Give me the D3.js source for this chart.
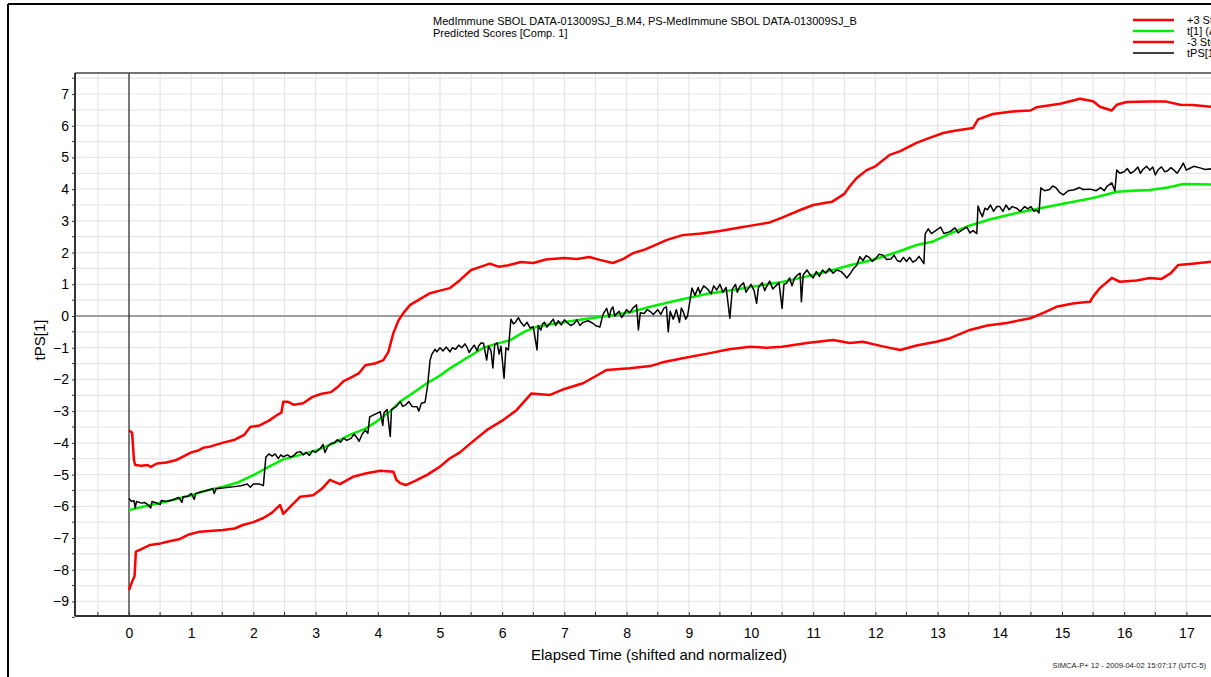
<!DOCTYPE html>
<html>
<head>
<meta charset="utf-8">
<script src="https://cdn.jsdelivr.net/npm/d3@7"></script>
<style>
  body { margin: 0; background: #fff; }
  svg { display: block; font-family: Arial, "Liberation Sans", Helvetica, sans-serif; }
</style>
</head>
<body>
<div class="scoreChart"></div>
<script>
// Values (x = elapsed time, y = tPS[1])
const upperLimit = [[0,-3.6],[0.05,-3.68],[0.08,-4.55],[0.1,-4.7],[0.2,-4.72],[0.3,-4.7],[0.35,-4.76],[0.45,-4.65],[0.6,-4.62],[0.75,-4.55],[0.9,-4.4],[1.0,-4.3],[1.1,-4.25],[1.2,-4.15],[1.3,-4.12],[1.5,-4.0],[1.7,-3.9],[1.85,-3.75],[1.95,-3.5],[2.1,-3.45],[2.25,-3.3],[2.4,-3.1],[2.45,-3.05],[2.48,-2.7],[2.55,-2.7],[2.65,-2.8],[2.8,-2.75],[2.95,-2.55],[3.1,-2.45],[3.25,-2.4],[3.35,-2.25],[3.45,-2.05],[3.55,-1.96],[3.7,-1.8],[3.8,-1.55],[3.95,-1.5],[4.09,-1.39],[4.17,-1.13],[4.25,-0.54],[4.33,-0.15],[4.41,0.09],[4.52,0.35],[4.65,0.5],[4.84,0.72],[5.0,0.8],[5.16,0.88],[5.32,1.13],[5.5,1.45],[5.65,1.55],[5.8,1.65],[5.95,1.55],[6.1,1.6],[6.3,1.7],[6.5,1.67],[6.7,1.78],[7.0,1.83],[7.2,1.8],[7.4,1.86],[7.57,1.77],[7.78,1.67],[7.95,1.8],[8.1,1.98],[8.3,2.1],[8.65,2.4],[8.9,2.55],[9.2,2.6],[9.5,2.68],[9.8,2.78],[10.0,2.85],[10.3,2.95],[10.5,3.1],[10.8,3.35],[11.0,3.5],[11.3,3.6],[11.5,3.85],[11.59,4.1],[11.7,4.35],[11.86,4.6],[12.0,4.72],[12.23,5.08],[12.4,5.2],[12.66,5.46],[12.85,5.6],[13.09,5.77],[13.3,5.85],[13.57,5.93],[13.65,6.2],[13.89,6.37],[14.2,6.45],[14.49,6.48],[14.59,6.58],[14.97,6.69],[15.29,6.85],[15.5,6.77],[15.61,6.6],[15.8,6.48],[15.88,6.66],[16.04,6.75],[16.41,6.76],[16.68,6.76],[16.9,6.66],[17.1,6.65],[17.4,6.6]];

const averageScore = [[0,-6.12],[0.25,-6.0],[0.51,-5.89],[0.75,-5.78],[1.0,-5.65],[1.25,-5.5],[1.51,-5.38],[1.75,-5.25],[2.0,-5.02],[2.25,-4.75],[2.48,-4.52],[2.75,-4.38],[3.02,-4.23],[3.3,-4.0],[3.55,-3.75],[3.8,-3.55],[3.98,-3.33],[4.2,-3.0],[4.36,-2.7],[4.6,-2.38],[4.79,-2.12],[5.0,-1.88],[5.16,-1.65],[5.45,-1.3],[5.7,-1.0],[5.9,-0.88],[6.13,-0.76],[6.35,-0.5],[6.55,-0.34],[6.8,-0.25],[7.04,-0.18],[7.3,-0.1],[7.57,-0.03],[7.85,0.05],[8.1,0.14],[8.38,0.29],[8.65,0.42],[8.97,0.56],[9.3,0.7],[9.71,0.82],[10.1,0.95],[10.52,1.08],[10.9,1.25],[11.32,1.45],[11.59,1.6],[11.85,1.72],[12.12,1.87],[12.4,2.05],[12.66,2.24],[12.93,2.35],[13.2,2.6],[13.47,2.82],[13.85,3.05],[14.27,3.25],[14.65,3.4],[15.08,3.56],[15.5,3.72],[15.88,3.92],[16.15,3.95],[16.41,3.97],[16.7,4.05],[16.95,4.16],[17.4,4.15]];

const lowerLimit = [[0,-8.64],[0.06,-8.33],[0.09,-8.2],[0.11,-7.43],[0.2,-7.35],[0.34,-7.22],[0.51,-7.17],[0.65,-7.1],[0.82,-7.03],[0.95,-6.9],[1.14,-6.8],[1.3,-6.78],[1.51,-6.75],[1.7,-6.7],[1.83,-6.59],[2.0,-6.5],[2.16,-6.37],[2.3,-6.2],[2.43,-5.96],[2.48,-6.24],[2.59,-6.02],[2.75,-5.7],[2.96,-5.65],[3.1,-5.45],[3.23,-5.17],[3.39,-5.3],[3.6,-5.07],[3.82,-4.96],[4.04,-4.88],[4.25,-4.91],[4.3,-5.17],[4.36,-5.27],[4.45,-5.33],[4.6,-5.2],[4.8,-5.0],[5.0,-4.75],[5.15,-4.5],[5.32,-4.3],[5.5,-4.0],[5.75,-3.6],[6.0,-3.3],[6.23,-2.97],[6.47,-2.44],[6.77,-2.49],[7.0,-2.3],[7.3,-2.12],[7.5,-1.9],[7.68,-1.7],[8.05,-1.65],[8.38,-1.58],[8.6,-1.45],[8.9,-1.33],[9.34,-1.17],[9.65,-1.05],[9.98,-0.97],[10.25,-1.0],[10.5,-0.97],[10.9,-0.85],[11.32,-0.76],[11.59,-0.85],[11.8,-0.81],[12.1,-0.95],[12.4,-1.07],[12.66,-0.93],[12.98,-0.81],[13.2,-0.7],[13.52,-0.44],[13.8,-0.3],[14.11,-0.22],[14.49,-0.07],[14.7,0.1],[14.91,0.29],[15.2,0.4],[15.45,0.45],[15.5,0.61],[15.61,0.88],[15.8,1.2],[15.93,1.08],[16.2,1.12],[16.41,1.2],[16.6,1.17],[16.75,1.35],[16.87,1.61],[17.1,1.65],[17.4,1.71]];

const predictedScore = [[0,-5.75],[0.04,-5.85],[0.08,-5.82],[0.1,-6.05],[0.12,-5.85],[0.2,-5.9],[0.25,-5.88],[0.3,-5.95],[0.35,-6.05],[0.37,-5.85],[0.45,-5.9],[0.5,-5.95],[0.52,-5.82],[0.6,-5.85],[0.7,-5.8],[0.8,-5.72],[0.85,-5.88],[0.87,-5.7],[0.95,-5.68],[1.0,-5.6],[1.05,-5.78],[1.07,-5.6],[1.15,-5.55],[1.25,-5.5],[1.35,-5.45],[1.37,-5.6],[1.4,-5.45],[1.5,-5.42],[1.6,-5.4],[1.7,-5.38],[1.8,-5.35],[1.9,-5.3],[1.95,-5.4],[2.0,-5.3],[2.1,-5.3],[2.16,-5.35],
  [2.2,-4.45],[2.25,-4.35],[2.3,-4.42],[2.35,-4.35],[2.4,-4.5],[2.44,-4.38],[2.48,-4.44],[2.55,-4.38],[2.6,-4.45],[2.65,-4.4],[2.7,-4.3],[2.76,-4.28],[2.8,-4.38],[2.85,-4.3],[2.9,-4.4],[2.95,-4.25],[3.0,-4.3],[3.08,-4.17],[3.12,-4.05],[3.15,-4.3],[3.2,-4.1],[3.25,-4.02],[3.3,-4.0],[3.35,-3.9],[3.4,-3.98],[3.45,-3.85],[3.5,-3.92],[3.57,-3.86],[3.62,-3.72],[3.65,-3.8],[3.7,-3.95],[3.75,-3.72],[3.8,-3.6],[3.84,-3.7],
  [3.87,-3.18],[3.95,-3.1],[4.04,-3.02],[4.08,-3.45],[4.1,-3.05],[4.15,-2.95],[4.2,-3.8],[4.22,-2.95],[4.3,-2.85],[4.36,-2.7],[4.4,-2.85],[4.45,-2.8],[4.5,-2.7],[4.55,-2.85],[4.63,-2.86],[4.66,-3.0],[4.7,-2.75],[4.76,-2.72],[4.8,-2.2],[4.84,-1.4],
  [4.87,-1.2],[4.92,-1.05],[4.95,-1.13],[5.0,-1.0],[5.05,-1.1],[5.1,-0.98],[5.16,-1.13],[5.2,-1.0],[5.25,-1.05],[5.3,-0.92],[5.35,-1.0],[5.4,-0.88],[5.43,-0.97],[5.47,-1.15],[5.5,-1.05],[5.55,-0.92],[5.6,-1.1],[5.62,-0.95],[5.66,-0.85],[5.7,-0.86],[5.75,-1.39],[5.78,-0.95],[5.82,-1.1],[5.85,-1.64],[5.88,-0.9],[5.92,-0.85],[5.95,-1.2],[5.98,-0.95],[6.03,-1.96],[6.06,-1.0],[6.1,-1.07],
  [6.14,-0.1],[6.18,-0.25],[6.22,-0.18],[6.26,-0.05],[6.3,-0.2],[6.35,-0.32],[6.4,-0.2],[6.45,-0.38],[6.5,-0.34],[6.56,-1.07],[6.58,-0.3],[6.62,-0.45],[6.65,-0.25],[6.68,-0.2],[6.72,-0.35],[6.77,-0.23],[6.82,-0.1],[6.86,-0.3],[6.9,-0.15],[6.95,-0.28],[7.0,-0.12],[7.04,-0.2],[7.1,-0.3],[7.15,-0.25],[7.2,-0.12],[7.25,-0.3],[7.3,-0.2],[7.38,-0.15],[7.45,-0.22],[7.5,-0.3],[7.57,-0.35],
  [7.62,0.05],[7.68,0.24],[7.72,-0.05],[7.75,0.2],[7.78,0.29],[7.81,0.0],[7.84,0.08],[7.88,0.15],[7.92,-0.05],[7.95,0.03],[8.0,0.2],[8.05,0.1],[8.1,0.25],[8.16,0.35],[8.19,-0.44],[8.22,0.1],[8.28,0.08],[8.33,0.2],[8.38,0.14],[8.43,0.05],[8.5,0.2],[8.55,0.05],[8.6,0.25],[8.64,0.29],[8.67,-0.5],[8.7,0.15],[8.75,-0.1],[8.8,0.2],[8.85,-0.2],[8.88,0.25],[8.91,0.14],[8.95,-0.1],[8.98,0.0],
  [9.05,0.88],[9.1,0.65],[9.15,0.9],[9.18,0.72],[9.24,0.95],[9.3,0.85],[9.36,0.7],[9.4,0.95],[9.45,0.82],[9.5,1.0],[9.55,0.75],[9.6,0.9],[9.66,-0.07],[9.7,0.85],[9.75,1.0],[9.78,0.75],[9.82,0.93],[9.88,1.05],[9.92,0.75],[9.95,0.85],[10.0,1.0],[10.05,0.8],[10.09,0.4],[10.12,0.9],[10.18,1.05],[10.22,0.8],[10.25,0.93],[10.3,1.1],[10.35,0.85],[10.4,0.95],[10.45,1.05],[10.5,0.24],[10.53,1.0],[10.57,1.03],[10.62,1.2],[10.66,0.95],[10.7,1.2],[10.75,1.3],[10.79,1.35],[10.81,0.45],[10.84,1.3],[10.9,1.45],[10.95,1.3],[11.0,1.2],[11.05,1.4],[11.1,1.25],[11.15,1.45],[11.2,1.35],[11.26,1.5],[11.32,1.35],[11.38,1.45],[11.45,1.4],[11.5,1.3],[11.54,1.2],[11.6,1.35],[11.65,1.5],[11.7,1.6],
  [11.75,1.87],[11.8,1.75],[11.85,1.9],[11.9,1.85],[11.95,1.72],[12.0,1.8],[12.06,1.95],[12.12,1.92],[12.18,1.78],[12.25,1.8],[12.3,1.92],[12.35,1.75],[12.4,1.71],[12.45,1.85],[12.5,1.72],[12.55,1.85],[12.6,1.7],[12.65,1.75],[12.7,1.88],[12.74,1.77],[12.78,1.65],
  [12.8,2.59],[12.85,2.75],[12.9,2.6],[12.98,2.71],[13.05,2.8],[13.1,2.6],[13.2,2.66],[13.28,2.78],[13.33,2.62],[13.4,2.72],[13.47,2.8],[13.52,2.62],[13.57,2.69],[13.63,2.6],
  [13.65,3.47],[13.68,3.3],[13.72,3.13],[13.76,3.4],[13.8,3.35],[13.85,3.5],[13.9,3.3],[13.95,3.45],[14.0,3.45],[14.05,3.3],[14.1,3.5],[14.15,3.35],[14.2,3.45],[14.27,3.4],[14.33,3.3],[14.4,3.45],[14.45,3.38],[14.5,3.45],[14.55,3.3],[14.59,3.34],[14.63,3.25],
  [14.66,4.04],[14.72,3.95],[14.8,3.99],[14.85,4.1],[14.9,4.05],[14.96,3.9],[15.02,3.82],[15.1,3.95],[15.2,3.98],[15.28,4.05],[15.34,3.99],[15.45,4.0],[15.55,3.95],[15.62,4.05],[15.68,3.95],[15.72,4.08],[15.8,4.2],[15.85,3.95],
  [15.88,4.6],[15.93,4.5],[16.0,4.55],[16.05,4.65],[16.1,4.5],[16.15,4.55],[16.22,4.7],[16.26,4.5],[16.3,4.62],[16.36,4.72],[16.41,4.6],[16.46,4.7],[16.5,4.45],[16.55,4.62],[16.6,4.7],[16.65,4.55],[16.7,4.58],[16.75,4.68],[16.8,4.6],[16.85,4.5],[16.9,4.65],[16.95,4.82],[17.0,4.6],[17.05,4.65],[17.12,4.72],[17.22,4.67],[17.3,4.62],[17.4,4.64]];

const xTicks = d3.range(0, 18);
const yTicks = d3.range(-9, 8);
const legendLabels = ["+3 Std.Dev", "t[1] (Avg)", "-3 Std.Dev", "tPS[1]"];
const seriesColors = ["#ff0000", "#00ee00", "#ff0000", "#000000"];

const width = 1211
const height = 677
const plot = { left: 75, top: 73, right: 1211, bottom: 616 };

const svg = d3.select(".scoreChart")
    .append("svg")
    .attr("width", width)
    .attr("height", height);

svg.append("rect").attr("width", width).attr("height", height).attr("fill", "#fff");

// Outer frame (top and left edges visible)
svg.append("line").attr("x1", 8).attr("x2", width).attr("y1", 4).attr("y2", 4)
    .attr("stroke", "#000").attr("stroke-width", 2);
svg.append("line").attr("x1", 8).attr("x2", 8).attr("y1", 4).attr("y2", height)
    .attr("stroke", "#000").attr("stroke-width", 2);

// Scales
const xScale = d3.scaleLinear().domain([0, 17]).range([129, 129 + 17 * 62.2]);
const yScale = d3.scaleLinear().domain([0, 7]).range([316, 94]);

// Grid every half unit
const xGrid = d3.range(-0.5, 18, 0.5);
const yGrid = d3.range(-9.5, 8, 0.5);
svg.append("g").selectAll("line")
    .data(xGrid)
    .join("line")
    .attr("x1", d => xScale(d)).attr("x2", d => xScale(d))
    .attr("y1", plot.top).attr("y2", plot.bottom)
    .attr("stroke", "#e6e6e6").attr("stroke-width", 1.2);
svg.append("g").selectAll("line")
    .data(yGrid.filter(d => yScale(d) > plot.top && yScale(d) < plot.bottom))
    .join("line")
    .attr("x1", plot.left).attr("x2", plot.right)
    .attr("y1", d => yScale(d)).attr("y2", d => yScale(d))
    .attr("stroke", "#e6e6e6").attr("stroke-width", 1.2);

// Zero lines
svg.append("line")
    .attr("x1", plot.left).attr("x2", plot.right)
    .attr("y1", yScale(0)).attr("y2", yScale(0))
    .attr("stroke", "#808080").attr("stroke-width", 1.5);
svg.append("line")
    .attr("x1", xScale(0)).attr("x2", xScale(0))
    .attr("y1", plot.top).attr("y2", plot.bottom)
    .attr("stroke", "#000").attr("stroke-width", 1);

// Plot top border
svg.append("line")
    .attr("x1", plot.left).attr("x2", plot.right)
    .attr("y1", plot.top).attr("y2", plot.top)
    .attr("stroke", "#444").attr("stroke-width", 1.5);

// Axes
const xAxis = d3.axisBottom(xScale)
    .tickValues(xTicks)
    .tickSize(-4)
    .tickPadding(12)
    .tickFormat(d3.format("d"));
const xAxisG = svg.append("g")
    .attr("transform", "translate(0," + plot.bottom + ")")
    .call(xAxis);
xAxisG.select(".domain").attr("d", "M" + plot.left + ",0H" + plot.right).attr("stroke", "#333").attr("stroke-width", 2);
xAxisG.selectAll(".tick line").attr("stroke", "#333");
xAxisG.selectAll(".tick text").attr("font-size", "14px").attr("fill", "#000");
// half-unit minor ticks
xAxisG.append("g").selectAll("line")
    .data(d3.range(-0.5, 18, 1))
    .join("line")
    .attr("x1", d => xScale(d)).attr("x2", d => xScale(d))
    .attr("y1", 0).attr("y2", -4)
    .attr("stroke", "#333");

const yAxis = d3.axisLeft(yScale)
    .tickValues(yTicks)
    .tickSize(3)
    .tickPadding(3)
    .tickFormat(d3.format("d"));
const yAxisG = svg.append("g")
    .attr("transform", "translate(" + plot.left + ",0)")
    .call(yAxis);
yAxisG.select(".domain").attr("d", "M0," + plot.top + "V" + plot.bottom).attr("stroke", "#333").attr("stroke-width", 2);
yAxisG.selectAll(".tick line").attr("stroke", "#333");
yAxisG.selectAll(".tick text").attr("font-size", "14px").attr("fill", "#000");
yAxisG.append("g").selectAll("line")
    .data(d3.range(-9.5, 8, 1).filter(d => yScale(d) > plot.top))
    .join("line")
    .attr("x1", -3).attr("x2", 0)
    .attr("y1", d => yScale(d)).attr("y2", d => yScale(d))
    .attr("stroke", "#333");

// Axis labels
svg.append("text")
    .attr("x", 659)
    .attr("y", 660)
    .attr("text-anchor", "middle")
    .attr("font-size", "15px")
    .text("Elapsed Time (shifted and normalized)");
svg.append("text")
    .attr("transform", "rotate(-90)")
    .attr("x", -340)
    .attr("y", 45)
    .attr("text-anchor", "middle")
    .attr("font-size", "15px")
    .text("tPS[1]");

// Title
svg.append("text").attr("x", 433).attr("y", 25).attr("font-size", "11px")
    .text("MedImmune SBOL DATA-013009SJ_B.M4, PS-MedImmune SBOL DATA-013009SJ_B");
svg.append("text").attr("x", 433).attr("y", 37).attr("font-size", "11px")
    .text("Predicted Scores [Comp. 1]");

// Footer
svg.append("text").attr("x", 1206).attr("y", 668).attr("text-anchor", "end")
    .attr("font-size", "7.6px").attr("fill", "#222")
    .text("SIMCA-P+ 12 - 2009-04-02 15:07:17 (UTC-5)");

// Series lines, clipped to plot area
svg.append("clipPath").attr("id", "plotClip")
    .append("rect")
    .attr("x", plot.left).attr("y", plot.top)
    .attr("width", plot.right - plot.left).attr("height", plot.bottom - plot.top);

const line = d3.line().x(d => xScale(d[0])).y(d => yScale(d[1]));
const series = [upperLimit, averageScore, lowerLimit, predictedScore];
const widths = [2.5, 2.5, 2.5, 1.5];
const linesG = svg.append("g").attr("clip-path", "url(#plotClip)");
linesG.selectAll("path")
    .data(series)
    .join("path")
    .attr("d", line)
    .attr("fill", "none")
    .attr("stroke", (d, i) => seriesColors[i])
    .attr("stroke-width", (d, i) => widths[i])
    .attr("stroke-linejoin", "round");

// Legend (runs off the right edge, as in the source image)
const legend = svg.append("g").attr("transform", "translate(1133,20)");
legend.selectAll("line")
    .data(legendLabels)
    .join("line")
    .attr("x1", 0).attr("x2", 41)
    .attr("y1", (d, i) => i * 11).attr("y2", (d, i) => i * 11)
    .attr("stroke", (d, i) => seriesColors[i])
    .attr("stroke-width", (d, i) => widths[i]);
legend.selectAll("text")
    .data(legendLabels)
    .join("text")
    .attr("x", 54)
    .attr("y", (d, i) => i * 11 + 4)
    .attr("font-size", "11px")
    .text(d => d);
</script>
</body>
</html>
